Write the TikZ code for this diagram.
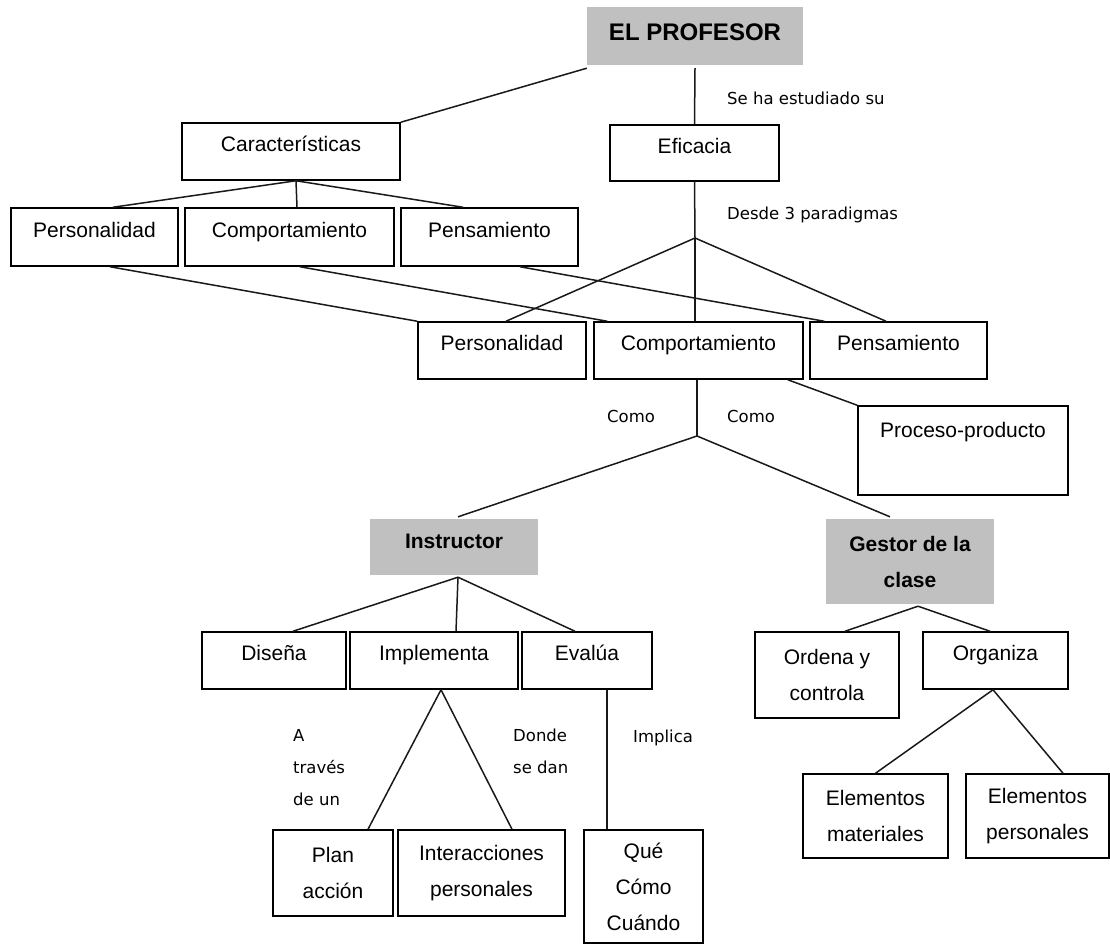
\documentclass[tikz,border=0pt]{standalone}
\usepackage{fontspec}
\setmainfont{Liberation Sans}
\newfontfamily\labfont{DejaVu Sans}
\usetikzlibrary{calc}
\definecolor{boxgray}{RGB}{192,192,192}

\begin{document}
\begin{tikzpicture}[x=1pt,y=-1pt,
  box/.style={draw=black, line width=1.5pt, inner sep=0pt, align=center,
    font=\fontsize{21}{36}\selectfont},
  single/.style={text height=10pt, text depth=10pt},
  head/.style={fill=boxgray, draw=none, inner sep=0pt, align=center,
    font=\fontsize{21}{36}\selectfont\bfseries},
  lab/.style={inner sep=0pt, align=left, font=\labfont\fontsize{16.5}{32}\selectfont},
  link/.style={line width=1.5pt, draw=black!90},
]
\useasboundingbox (0,0) rectangle (1110,945);

% --- boxes ---
\node[head, minimum width=216, minimum height=58, font=\fontsize{24}{28}\selectfont\bfseries,
      text height=19pt, text depth=10pt] (prof) at (695,36) {EL PROFESOR};

\node[box,single, minimum width=218, minimum height=57] (car) at (291,151.5) {Características};
\node[box,single, minimum width=169, minimum height=56] (efi) at (694.5,153) {Eficacia};

\node[box,single, minimum width=167, minimum height=58] (p1) at (94.5,237) {Personalidad};
\node[box,single, minimum width=209, minimum height=58] (c1) at (289.5,237) {Comportamiento};
\node[box,single, minimum width=177, minimum height=58] (n1) at (489.5,237) {Pensamiento};

\node[box,single, minimum width=168, minimum height=57] (p2) at (502,350.5) {Personalidad};
\node[box,single, minimum width=209, minimum height=57] (c2) at (698.5,350.5) {Comportamiento};
\node[box,single, minimum width=177, minimum height=57] (n2) at (898.5,350.5) {Pensamiento};

\node[box, minimum width=210, minimum height=89, text height=10pt, text depth=36pt] (pp) at (963,450.5) {Proceso-producto};

\node[head, minimum width=168, minimum height=56, text height=11.5pt, text depth=8.5pt] (ins) at (454,547) {Instructor};
\node[head, minimum width=168, minimum height=85] (ges) at (910,561.5) {Gestor de la\\clase};

\node[box,single, minimum width=144, minimum height=57] (dis) at (274,660.5) {Diseña};
\node[box,single, minimum width=168, minimum height=57] (imp) at (434,660.5) {Implementa};
\node[box,single, minimum width=130, minimum height=57] (eva) at (587,660.5) {Evalúa};

\node[box, minimum width=120, minimum height=86] (pla) at (333,873) {Plan\\acción};
\node[box, minimum width=167, minimum height=86] (int) at (481.5,873) {Interacciones\\personales};
\node[box, minimum width=119, minimum height=113] (que) at (643.5,886.5) {Qué\\Cómo\\Cuándo};

\node[box, minimum width=144, minimum height=86] (ord) at (827,675) {Ordena y\\controla};
\node[box,single, minimum width=145, minimum height=57] (org) at (995.5,660.5) {Organiza};
\node[box, minimum width=145, minimum height=84] (ema) at (875.5,816) {Elementos\\materiales};
\node[box, minimum width=143, minimum height=84] (epe) at (1037.5,816) {Elementos\\personales};

% --- branching points ---
\coordinate (a1) at (695,238);
\coordinate (a2) at (697,436);

% --- connectors ---
\draw[link] ([yshift=-3pt]prof.south west) -- (car.north east);
\draw[link] ([yshift=-3pt]prof.south) -- (efi.north);

\draw[link] ([xshift=5pt]car.south) -- ([xshift=18.5pt]p1.north);
\draw[link] ([xshift=5pt]car.south) -- ([xshift=7.5pt]c1.north);
\draw[link] ([xshift=5pt]car.south) -- ([xshift=-26.5pt]n1.north);

\draw[link] (efi.south) -- (a1);
\draw[link] (a1) -- ([xshift=-3.5pt]c2.north);
\draw[link] (a1) -- ([xshift=4pt]p2.north);
\draw[link] (a1) -- ([xshift=-12.5pt]n2.north);

\draw[link] ([xshift=15.5pt]p1.south) -- (p2.north west);
\draw[link] ([xshift=10.5pt]c1.south) -- ([xshift=14pt]c2.north west);
\draw[link] ([xshift=30.5pt]n1.south) -- ([xshift=15pt]n2.north west);

\draw[link] ([xshift=-16pt]c2.south east) -- (pp.north west);

\draw[link] ([xshift=-1.5pt]c2.south) -- (a2);
\draw[link] (a2) -- ([xshift=4pt,yshift=2pt]ins.north);
\draw[link] (a2) -- ([xshift=-20pt,yshift=2pt]ges.north);

\draw[link] ([xshift=4pt,yshift=-2pt]ins.south) -- ([xshift=19pt]dis.north);
\draw[link] ([xshift=4pt,yshift=-2pt]ins.south) -- ([xshift=22pt]imp.north);
\draw[link] ([xshift=4pt,yshift=-2pt]ins.south) -- ([xshift=-12pt]eva.north);

\draw[link] ([xshift=7pt]imp.south) -- ([xshift=35pt]pla.north);
\draw[link] ([xshift=7pt]imp.south) -- ([xshift=30.5pt]int.north);
\draw[link] ([xshift=20pt]eva.south) -- ([xshift=-36.5pt]que.north);

\draw[link] ([xshift=8pt,yshift=-2pt]ges.south) -- ([xshift=18pt]ord.north);
\draw[link] ([xshift=8pt,yshift=-2pt]ges.south) -- ([xshift=-5.5pt]org.north);

\draw[link] ([xshift=-2.5pt]org.south) -- (ema.north);
\draw[link] ([xshift=-2.5pt]org.south) -- ([xshift=25.5pt]epe.north);

% --- connector labels ---
\node[lab, anchor=base west] (l1) at (727,104) {Se ha estudiado su};
\node[lab, anchor=base west] (l2) at (727,219) {Desde 3 paradigmas};
\node[lab, anchor=base west] (l3) at (607,422) {Como};
\node[lab, anchor=base west] (l4) at (727,422) {Como};
\node[lab, anchor=west] (l5) at (293,767.5) {A\\través\\de un};
\node[lab, anchor=west] (l6) at (513,751.75) {Donde\\se dan};
\node[lab, anchor=base west] (l7) at (633,742) {Implica};
\end{tikzpicture}
\end{document}
